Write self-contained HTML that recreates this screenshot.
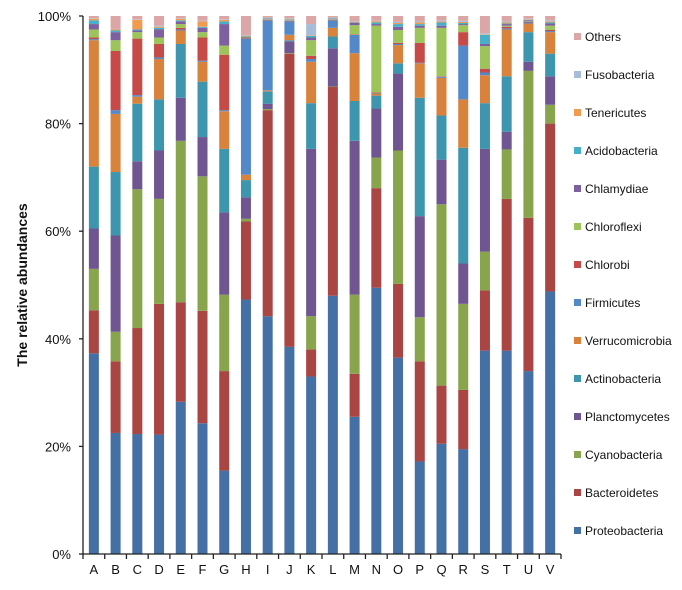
<!DOCTYPE html>
<html><head><meta charset="utf-8"><style>
body{margin:0;background:#fff;}
svg text{font-family:"Liberation Sans",sans-serif;}
</style></head><body>
<svg id="chart" width="682" height="585" xmlns="http://www.w3.org/2000/svg"></svg>
<script>
const categories=["A","B","C","D","E","F","G","H","I","J","K","L","M","N","O","P","Q","R","S","T","U","V"];
const yTicks=["0%","20%","40%","60%","80%","100%"];
const seriesNames=["Proteobacteria","Bacteroidetes","Cyanobacteria","Planctomycetes","Actinobacteria","Verrucomicrobia","Firmicutes","Chlorobi","Chloroflexi","Chlamydiae","Acidobacteria","Tenericutes","Fusobacteria","Others"];
const seriesColors=["#4470A6","#A94543","#88A44D","#6F5690","#3E96AE","#D9823C","#5389C9","#C64B48","#9CC45A","#7E5FA0","#46AFC9","#F29A4E","#A6BCD9","#DCA6A6"];
const proteo=[37.3,22.5,22.3,22.2,28.3,24.3,15.5,47.3,44.2,38.5,33,48,25.5,49.5,36.5,17.2,20.5,19.5,37.8,37.8,34,48.8];
const bact=[8,13.3,19.7,24.3,18.5,20.9,18.5,14.5,38.3,54.5,5,38.8,8,18.5,13.7,18.6,10.8,11,11.2,28.2,28.5,31.2];
const cyano=[7.7,5.5,25.8,19.5,30,25,14.2,0.5,0.2,0.1,6.2,0.1,14.7,5.7,24.8,8.2,33.7,16,7.2,9.2,27.3,3.5];
const planct=[7.5,17.9,5.2,9,8,7.3,15.3,4,1,2.2,31.1,7.1,28.6,9.1,14.3,18.8,8.3,7.5,19.1,3.3,1.7,5.3];
const actino=[11.5,11.8,10.7,9.5,10,10.3,11.8,3.2,2.3,0.2,8.5,2.2,7.4,2.4,1.9,22,8.2,21.5,8.5,10.3,5.5,4.2];
const verruc=[23.5,10.8,1.3,7.5,2.5,3.7,7,1,0.2,1,7.7,1.6,8.9,0.4,3.4,6.4,7,9,5.2,8.7,1.6,4];
const firm=[0.2,0.7,0.3,0.3,0.2,0.2,0.2,25.3,13,2.5,0.5,1.4,3.4,0.1,0.2,0.1,0.2,10,0.5,0.2,0.2,0.2];
const chlorobi=[0.3,11,10.5,2.5,0.3,4.3,10.3,0.1,0.1,0.1,0.6,0.1,0.1,0.1,0.2,3.7,0.1,2.5,0.7,0.3,0.1,0.2];
const chloroflexi=[1.5,2,1.2,1.2,0.7,1,1.7,0.1,0.1,0.1,2.9,0.1,1.7,12.4,2.4,2.8,9,1.3,4.2,0.2,0.1,0.8];
const chlamydiae=[1,1.5,0.3,1.5,0.5,0.8,4,0.1,0.1,0.1,0.5,0.1,0.4,0.3,0.6,0.4,0.4,0.2,0.4,0.3,0.2,0.4];
const acido=[0.7,0.3,0.2,0.3,0.2,0.2,0.5,0.1,0.1,0.1,0.3,0.1,0.1,0.3,0.5,0.3,0.6,0.2,1.7,0.1,0.1,0.2];
const teneric=[0.3,0.2,1.8,0.2,0.3,1,0.3,0.1,0.1,0.1,0.1,0.1,0.1,0.2,0.2,0.3,0.2,0.2,0.1,0.2,0.1,0.2];
const fuso=[0.1,0.1,0.1,0.2,0.1,0.1,0.1,0.1,0.1,0.1,2.1,0.1,0.1,0.1,0.2,0.2,0.2,0.2,0.2,0.2,0.1,0.2];
const others=[0.4,2.4,0.6,1.8,0.4,0.9,0.6,3.6,0.2,0.4,1.5,0.2,1,0.9,1.1,1,0.8,0.9,3.2,1,0.5,0.8];
const series=[proteo,bact,cyano,planct,actino,verruc,firm,chlorobi,chloroflexi,chlamydiae,acido,teneric,fuso,others];

const NS="http://www.w3.org/2000/svg";
const svg=document.getElementById('chart');
const X0=83,X1=561,Y0=554,Y1=16;
const band=(X1-X0)/categories.length, barW=10;
function yScale(v){return Y0-(v/100)*(Y0-Y1);}
function xCenter(i){return X0+band*(i+0.5);}
function mk(tag,attrs){const e=document.createElementNS(NS,tag);for(const k in attrs)e.setAttribute(k,attrs[k]);svg.appendChild(e);return e;}

// bars
categories.forEach((c,i)=>{
  let cum=0;
  const totals=series.reduce((s,a)=>s+a[i],0);
  series.forEach((arr,s)=>{
    const v=arr[i]/totals*100;
    const yt=yScale(cum+v), yb=yScale(cum);
    const r=mk('rect',{x:xCenter(i)-barW/2,y:yt,width:barW,height:Math.max(0,yb-yt),fill:seriesColors[s]});
    
    
    cum+=v;
  });
});

// axes
const ya=mk('line',{x1:X0,y1:Y1,x2:X0,y2:Y0,stroke:'#222','stroke-width':1.3});


const xa=mk('line',{x1:X0,y1:Y0,x2:X1,y2:Y0,stroke:'#222','stroke-width':1.3});


yTicks.forEach((t,k)=>{
  const y=yScale(k*20);
  const tk=mk('line',{x1:X0-4,y1:y,x2:X0,y2:y,stroke:'#222','stroke-width':1.3});
  
  
  const tx=mk('text',{x:X0-12,y:y+5,'text-anchor':'end','font-size':13,fill:'#111'});
  tx.textContent=t;
  
  
});
for(let i=0;i<=categories.length;i++){
  const x=X0+band*i;
  const tk=mk('line',{x1:x,y1:Y0,x2:x,y2:Y0+5,stroke:'#222','stroke-width':1.3});
  
  
}
categories.forEach((c,i)=>{
  const tx=mk('text',{x:xCenter(i),y:Y0+20,'text-anchor':'middle','font-size':13,fill:'#111'});
  tx.textContent=c;
  
  
});
const yt=mk('text',{x:0,y:0,'text-anchor':'middle','font-size':14,'font-weight':'bold',fill:'#111',transform:'translate(27,285) rotate(-90)'});
yt.textContent='The relative abundances';



// legend (top = Others)
for(let s=series.length-1;s>=0;s--){
  const row=series.length-1-s;
  const y=37+row*38;
  const sq=mk('rect',{x:574,y:y-4,width:7,height:7,fill:seriesColors[s]});
  
  
  const tx=mk('text',{x:585,y:y+4,'font-size':12,fill:'#111'});
  tx.textContent=seriesNames[s];
  
  
}
</script>
</body></html>
